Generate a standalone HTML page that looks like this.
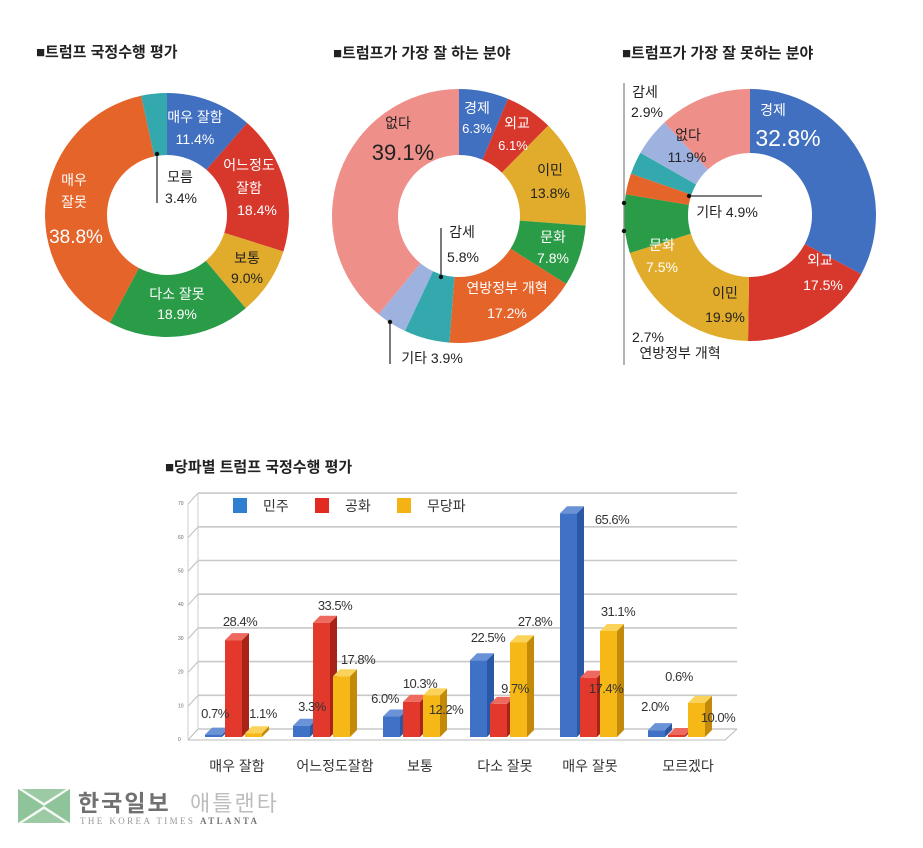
<!DOCTYPE html>
<html><head><meta charset="utf-8"><style>
body{margin:0;background:#fff;width:923px;height:843px;overflow:hidden}
svg text{font-family:"Liberation Sans","Noto Sans CJK KR",sans-serif}
</style></head><body>
<svg id="s" width="923" height="843" xmlns="http://www.w3.org/2000/svg">
<g font-size="15" font-weight="bold" fill="#222">
<text x="36" y="57">■트럼프 국정수행 평가</text>
<text x="333" y="58">■트럼프가 가장 잘 하는 분야</text>
<text x="622" y="58">■트럼프가 가장 잘 못하는 분야</text>
<text x="165" y="472">■당파별 트럼프 국정수행 평가</text>
</g>
<g id="donuts"></g>
<g id="bars"></g>
<g font-size="14" text-anchor="middle" fill="#fff">
<text x="195" y="122">매우 잘함</text><text x="195" y="144">11.4%</text>
<text x="249" y="170">어느정도</text><text x="249" y="193">잘함</text><text x="257" y="215">18.4%</text>
<text x="247" y="263" fill="#222">보통</text><text x="247" y="283" fill="#222">9.0%</text>
<text x="177" y="299">다소 잘못</text><text x="177" y="319">18.9%</text>
<text x="74" y="185">매우</text><text x="74" y="207">잘못</text><text x="76" y="243" font-size="19">38.8%</text>
<text x="180" y="182" fill="#222">모름</text><text x="181" y="203" fill="#222">3.4%</text>
<text x="477" y="113">경제</text><text x="477" y="133" font-size="13">6.3%</text>
<text x="517" y="128">외교</text><text x="513" y="150" font-size="13">6.1%</text>
<text x="550" y="175" fill="#222">이민</text><text x="550" y="198" fill="#222">13.8%</text>
<text x="553" y="242">문화</text><text x="553" y="263">7.8%</text>
<text x="507" y="293">연방정부 개혁</text><text x="507" y="318">17.2%</text>
<text x="398" y="128" fill="#222">없다</text><text x="403" y="160" fill="#222" font-size="22">39.1%</text>
<text x="462" y="237" fill="#222">감세</text><text x="463" y="262" fill="#222">5.8%</text>
<text x="432" y="363" fill="#222">기타 3.9%</text>
<text x="645" y="97" fill="#222">감세</text><text x="647" y="117" fill="#222">2.9%</text>
<text x="688" y="140" fill="#222">없다</text><text x="687" y="162" fill="#222">11.9%</text>
<text x="773" y="115">경제</text><text x="788" y="146" font-size="23">32.8%</text>
<text x="727" y="217" fill="#222">기타 4.9%</text>
<text x="820" y="265">외교</text><text x="823" y="290">17.5%</text>
<text x="725" y="298" fill="#222">이민</text><text x="725" y="322" fill="#222">19.9%</text>
<text x="662" y="250">문화</text><text x="662" y="272">7.5%</text>
<text x="648" y="342" fill="#222">2.7%</text><text x="680" y="358" fill="#222">연방정부 개혁</text>
</g>
<g stroke="#333" stroke-width="1.3">
<line x1="157" y1="154" x2="157" y2="203"/><line x1="441" y1="228" x2="441" y2="277"/>
<line x1="390" y1="322" x2="390" y2="364"/><line x1="689" y1="196" x2="762" y2="196"/>
<line x1="624" y1="83" x2="624" y2="365" stroke="#888"/>
</g>
<g fill="#111"><circle cx="157" cy="154" r="2.2"/><circle cx="441" cy="277" r="2.2"/><circle cx="390" cy="322" r="2.2"/><circle cx="689" cy="196" r="2.2"/><circle cx="624" cy="203" r="2.2"/><circle cx="624" cy="231" r="2.2"/></g>
<rect x="233" y="498" width="14" height="15" fill="#2f7fd0"/><text x="263" y="511" font-size="14" fill="#333">민주</text>
<rect x="315" y="498" width="14" height="15" fill="#e02a22"/><text x="345" y="511" font-size="14" fill="#333">공화</text>
<rect x="397" y="498" width="14" height="15" fill="#f5b214"/><text x="427" y="511" font-size="14" fill="#333">무당파</text>
<g font-size="14" text-anchor="middle" fill="#333">
<text x="237" y="771">매우 잘함</text><text x="335" y="771">어느정도잘함</text><text x="420" y="771">보통</text>
<text x="505" y="771">다소 잘못</text><text x="590" y="771">매우 잘못</text><text x="688" y="771">모르겠다</text>
</g>
<g font-size="13" text-anchor="middle" fill="#333" letter-spacing="-0.5">
<text x="215" y="718">0.7%</text><text x="240" y="626">28.4%</text><text x="263" y="718">1.1%</text>
<text x="312" y="711">3.3%</text><text x="335" y="610">33.5%</text><text x="358" y="664">17.8%</text>
<text x="385" y="703">6.0%</text><text x="420" y="688">10.3%</text><text x="446" y="714">12.2%</text>
<text x="488" y="642">22.5%</text><text x="515" y="693">9.7%</text><text x="535" y="626">27.8%</text>
<text x="612" y="524">65.6%</text><text x="606" y="693">17.4%</text><text x="618" y="616">31.1%</text>
<text x="655" y="711">2.0%</text><text x="679" y="681">0.6%</text><text x="718" y="722">10.0%</text>
</g>
<rect x="18" y="789" width="52" height="34" fill="#8fc49a"/>
<polygon points="18,789 70,789 44,806" fill="#fff" opacity="0.9"/>
<polygon points="18,823 70,823 44,806" fill="#fff" opacity="0.9"/>
<polygon points="22,789 66,789 44,803" fill="#9ccaa5"/>
<polygon points="22,823 66,823 44,809" fill="#9ccaa5"/>
<text x="78" y="811" font-size="23" font-weight="bold" fill="#707070" letter-spacing="2">한국일보</text>
<text x="190" y="811" font-size="22" fill="#bdbdbd" letter-spacing="2">애틀랜타</text>
<text x="80" y="824" font-size="9" fill="#999" letter-spacing="2.4" style="font-family:'Liberation Serif',serif">THE KOREA TIMES <tspan font-weight="bold" fill="#777">ATLANTA</tspan></text>
</svg>
<script>
const C={b:"#4270c0",r:"#d8372c",y:"#e1ab2b",g:"#2a9b47",o:"#e4642a",t:"#33a9ad",l:"#9eb2e0",p:"#ef8f8a"};
function donut(cx,cy,R,r,data){
 let a=0,out="";const tot=data.reduce((s,d)=>s+d[0],0);
 for(const [v,c] of data){
  const a0=a/tot*2*Math.PI,a1=(a+v)/tot*2*Math.PI;a+=v;
  const p=(rr,t)=>[cx+rr*Math.sin(t),cy-rr*Math.cos(t)];
  const L=(a1-a0)>Math.PI?1:0;
  const [x0,y0]=p(R,a0),[x1,y1]=p(R,a1),[x2,y2]=p(r,a1),[x3,y3]=p(r,a0);
  out+=`<path d="M${x0},${y0}A${R},${R} 0 ${L} 1 ${x1},${y1}L${x2},${y2}A${r},${r} 0 ${L} 0 ${x3},${y3}Z" fill="${C[c]}"/>`;
 }
 return out;
}
let h=donut(167,215,122,60,[[11.4,"b"],[18.4,"r"],[9,"y"],[18.9,"g"],[38.8,"o"],[3.4,"t"]]);
h+=donut(459,216,127,61,[[6.3,"b"],[6.1,"r"],[13.8,"y"],[7.8,"g"],[17.2,"o"],[5.8,"t"],[3.9,"l"],[39.1,"p"]]);
h+=donut(750,215,126,62,[[32.8,"b"],[17.5,"r"],[19.9,"y"],[7.5,"g"],[2.7,"o"],[2.9,"t"],[4.9,"l"],[11.9,"p"]]);
document.getElementById("donuts").innerHTML=h;
let b="";const base=737,k=3.41,dx=7,dy=7,w=17;
for(let v=0;v<=70;v+=10){const y=base-v*3.37;
 b+=`<line x1="188" y1="${y+3}" x2="198" y2="${y-8}" stroke="#bbb"/><line x1="198" y1="${y-8}" x2="737" y2="${y-8}" stroke="#c8c8c8" stroke-width="1.6"/>`;
 b+=`<text x="178" y="${y+4}" font-size="5" fill="#666">${v}</text>`;}
b+=`<line x1="198" y1="${base-8}" x2="198" y2="${base-244}" stroke="#ccc"/><line x1="188" y1="${base+3}" x2="188" y2="${base-233}" stroke="#ccc"/>`;
b+=`<polyline points="188,740 725,740 737,729" fill="none" stroke="#bbb"/>`;
const cols=[["#3f72c6","#2b58a5","#6a92d6"],["#e2392c","#a82419","#ee6a5e"],["#f6b816","#c28a08","#fbd35a"]];
const data=[[0.7,28.4,1.1],[3.3,33.5,17.8],[6.0,10.3,12.2],[22.5,9.7,27.8],[65.6,17.4,31.1],[2.0,0.6,10.0]];
const gx=[205,293,383,470,560,648];
data.forEach((g,i)=>g.forEach((v,j)=>{const x=gx[i]+j*20,t=base-Math.max(v*k,2),c=cols[j];
 b+=`<polygon points="${x+w},${base} ${x+w+dx},${base-dy} ${x+w+dx},${t-dy} ${x+w},${t}" fill="${c[1]}"/>`;
 b+=`<polygon points="${x},${t} ${x+dx},${t-dy} ${x+w+dx},${t-dy} ${x+w},${t}" fill="${c[2]}"/>`;
 b+=`<rect x="${x}" y="${t}" width="${w}" height="${base-t}" fill="${c[0]}"/>`;}));
document.getElementById("bars").innerHTML=b;
</script>
</body></html>
